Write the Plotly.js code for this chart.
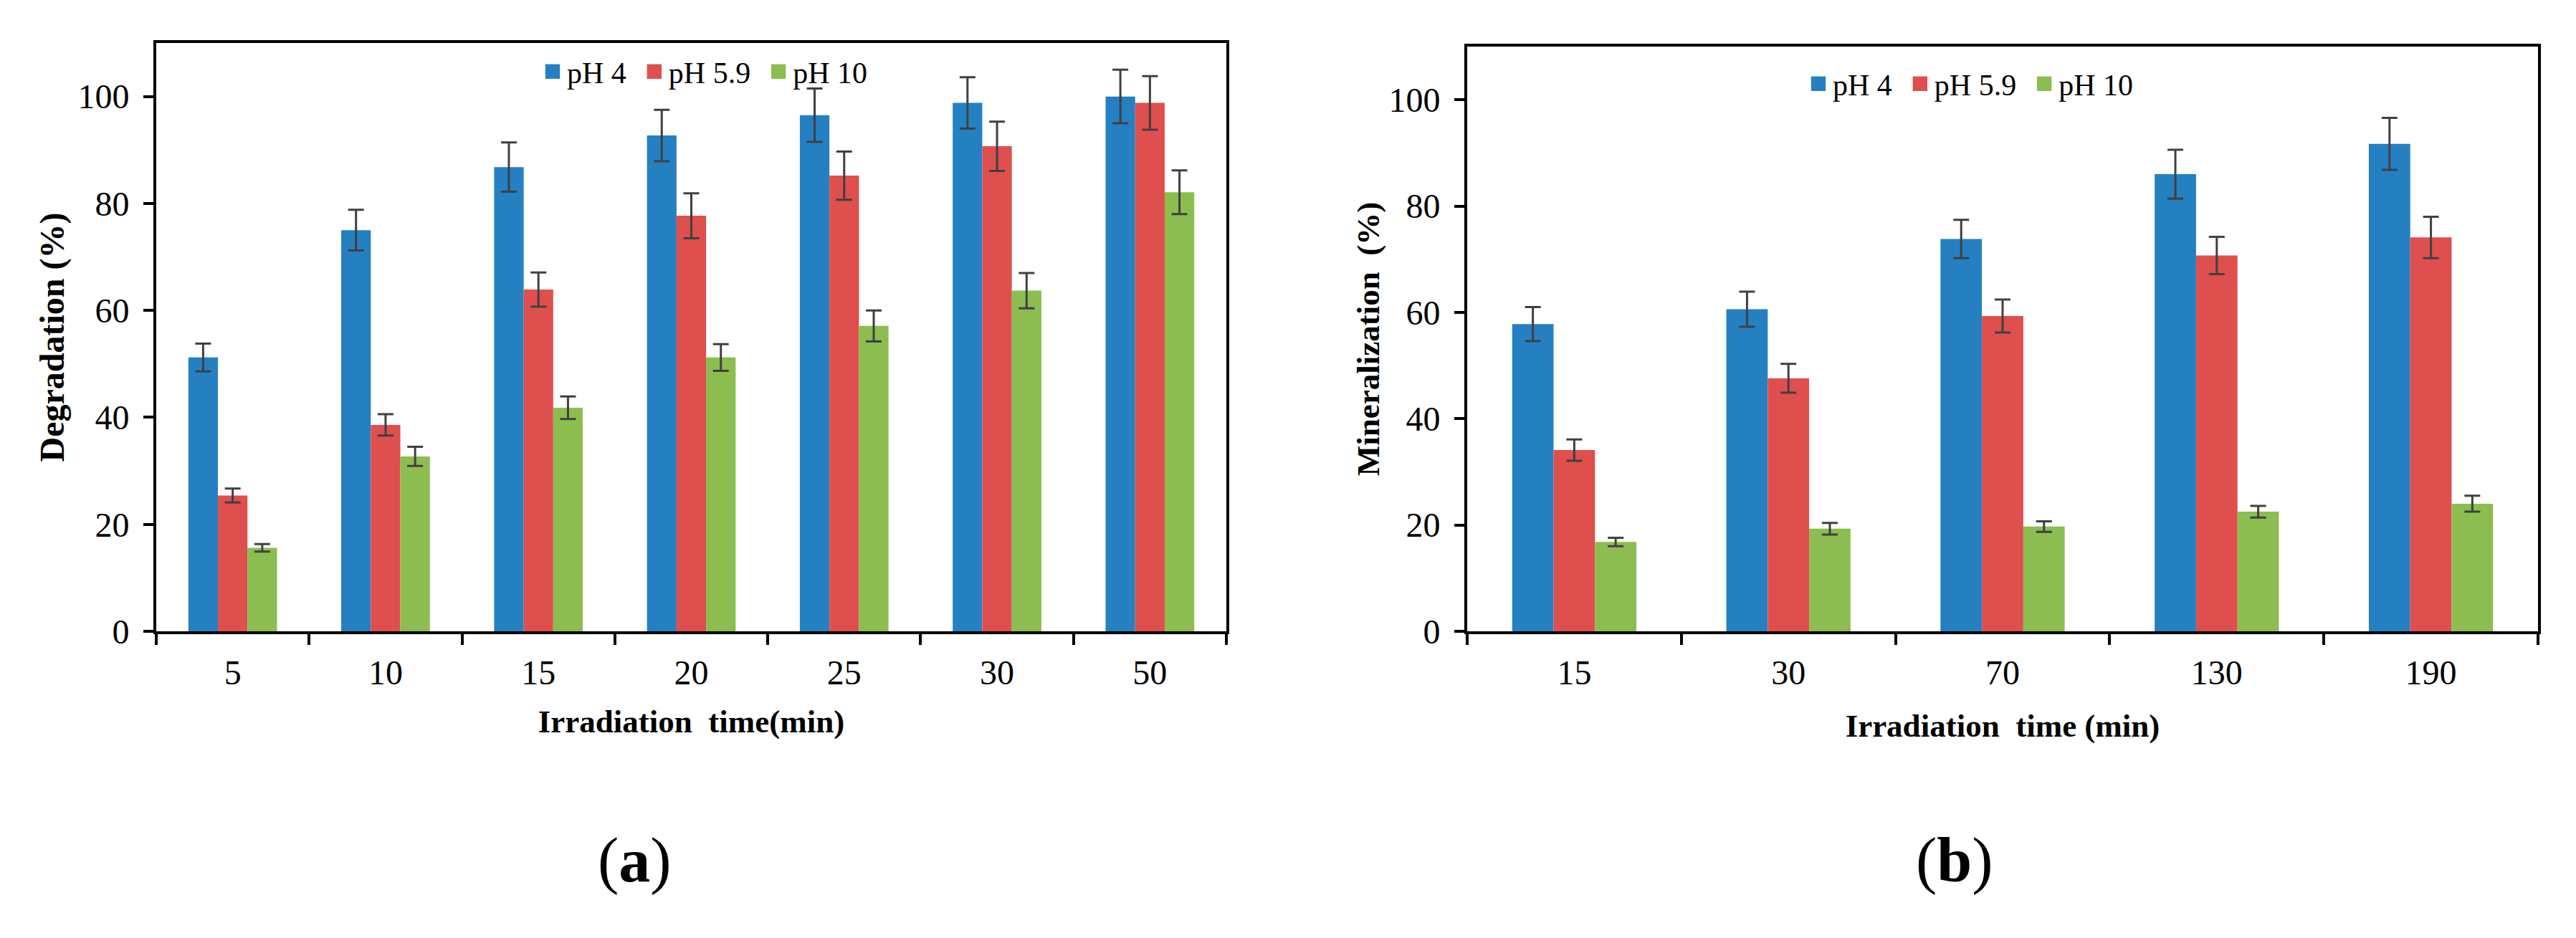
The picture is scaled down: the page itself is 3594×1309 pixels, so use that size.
<!DOCTYPE html>
<html>
<head>
<meta charset="utf-8">
<script src="https://cdn.plot.ly/plotly-3.0.1.min.js"></script>
<style>
  body { margin: 0; background: #fff; }
  #chart { width: 3594px; height: 1309px; }
</style>
</head>
<body>
<div id="chart"></div>
<script>
// (a) degradation
const timesA = ['5', '10', '15', '20', '25', '30', '50'];
const degPH4 = [51.2, 75.0, 86.8, 92.7, 96.5, 98.8, 100.0];
const degPH59 = [25.4, 38.6, 63.9, 77.7, 85.2, 90.7, 98.8];
const degPH10 = [15.6, 32.7, 41.8, 51.2, 57.1, 63.7, 82.1];
const degErr4 = [2.6, 3.8, 4.6, 4.8, 5.0, 4.8, 5.0];
const degErr59 = [1.3, 2.0, 3.2, 4.2, 4.5, 4.6, 5.0];
const degErr10 = [0.7, 1.8, 2.1, 2.5, 2.9, 3.3, 4.1];

// (b) mineralization
const timesB = ['15', '30', '70', '130', '190'];
const minPH4 = [57.8, 60.6, 73.8, 86.0, 91.7];
const minPH59 = [34.1, 47.6, 59.3, 70.7, 74.1];
const minPH10 = [16.8, 19.3, 19.7, 22.5, 24.0];
const minErr4 = [3.2, 3.3, 3.6, 4.6, 4.9];
const minErr59 = [2.0, 2.7, 3.1, 3.5, 3.9];
const minErr10 = [0.8, 1.1, 1.0, 1.1, 1.5];

const seriesNames = ['pH 4', 'pH 5.9', 'pH 10'];
const colors = ['#2580C2', '#DE4F4E', '#8CBD50'];

const serif = 'Liberation Serif, Times New Roman, serif';

function bar(x, y, err, i, xa, ya, leg) {
    return {
        type: 'bar',
        x: x,
        y: y,
        // a little trailing space so the legend entries sit apart like the original
        name: seriesNames[i] + '\u00a0\u200a',
        xaxis: xa,
        yaxis: ya,
        legend: leg,
        marker: { color: colors[i] },
        error_y: {
            type: 'data',
            array: err,
            visible: true,
            color: '#404040',
            thickness: 3,
            width: 11
        }
    };
}

const data = [
    bar(timesA, degPH4, degErr4, 0, 'x', 'y', 'legend'),
    bar(timesA, degPH59, degErr59, 1, 'x', 'y', 'legend'),
    bar(timesA, degPH10, degErr10, 2, 'x', 'y', 'legend'),
    bar(timesB, minPH4, minErr4, 0, 'x2', 'y2', 'legend2'),
    bar(timesB, minPH59, minErr59, 1, 'x2', 'y2', 'legend2'),
    bar(timesB, minPH10, minErr10, 2, 'x2', 'y2', 'legend2')
];

const xAxisBase = {
    type: 'category',
    showline: true,
    linecolor: '#000',
    linewidth: 4,
    mirror: true,
    ticks: 'outside',
    tickson: 'boundaries',
    ticklen: 15,
    tickwidth: 4,
    tickcolor: '#000',
    showgrid: false,
    zeroline: false,
    ticklabelstandoff: 12,
    tickfont: { family: serif, size: 48, color: '#000' }
};

const yAxisBase = {
    range: [0, 110],
    tickvals: [0, 20, 40, 60, 80, 100],
    showline: true,
    linecolor: '#000',
    linewidth: 4,
    mirror: true,
    ticks: 'outside',
    ticklen: 14,
    tickwidth: 4,
    tickcolor: '#000',
    showgrid: false,
    zeroline: false,
    ticklabelstandoff: 10,
    tickfont: { family: serif, size: 48, color: '#000' }
};

const xTitleFont = { family: serif, size: 45, color: '#000', weight: 'bold' };

const layout = {
    width: 3594,
    height: 1309,
    margin: { l: 0, r: 0, t: 0, b: 0 },
    paper_bgcolor: '#fff',
    plot_bgcolor: '#fff',
    barmode: 'group',
    bargap: 0.42,
    bargroupgap: 0,
    xaxis: {
        ...xAxisBase,
        domain: [218 / 3594, 1711 / 3594],
        anchor: 'y',
        title: { text: 'Irradiation\u00a0 time(min)', font: xTitleFont, standoff: 28 }
    },
    yaxis: {
        ...yAxisBase,
        domain: [428 / 1309, 1249 / 1309],
        anchor: 'x',
        title: {
            text: 'Degradation (%)',
            font: { family: serif, size: 48, color: '#000', weight: 'bold' },
            standoff: 5
        }
    },
    xaxis2: {
        ...xAxisBase,
        domain: [2047 / 3594, 3541 / 3594],
        anchor: 'y2',
        title: { text: 'Irradiation\u00a0 time (min)', font: xTitleFont, standoff: 34 }
    },
    yaxis2: {
        ...yAxisBase,
        domain: [428 / 1309, 1244 / 1309],
        anchor: 'x2',
        title: {
            text: 'Mineralization\u00a0 (%)',
            font: { family: serif, size: 45, color: '#000', weight: 'bold' },
            standoff: 0
        }
    },
    legend: {
        orientation: 'h',
        x: 751 / 3594,
        xanchor: 'left',
        y: (1309 - 100) / 1309,
        yanchor: 'middle',
        bgcolor: 'rgba(0,0,0,0)',
        font: { family: serif, size: 42, color: '#000' }
    },
    legend2: {
        orientation: 'h',
        x: 2517 / 3594,
        xanchor: 'left',
        y: (1309 - 117) / 1309,
        yanchor: 'middle',
        bgcolor: 'rgba(0,0,0,0)',
        font: { family: serif, size: 42, color: '#000' }
    },
    annotations: [
        {
            text: '(<b>a</b>)', xref: 'paper', yref: 'paper',
            x: 885 / 3594, y: (1309 - 1200) / 1309,
            xanchor: 'center', yanchor: 'middle',
            showarrow: false, font: { family: serif, size: 88, color: '#000' }
        },
        {
            text: '(<b>b</b>)', xref: 'paper', yref: 'paper',
            x: 2727 / 3594, y: (1309 - 1200) / 1309,
            xanchor: 'center', yanchor: 'middle',
            showarrow: false, font: { family: serif, size: 88, color: '#000' }
        }
    ]
};

Plotly.newPlot('chart', data, layout, { displayModeBar: false, staticPlot: true }).then(function() {
    // bigger legend squares, like the original
    document.querySelectorAll('.legendpoints path').forEach(function(p) {
        const t = p.getAttribute('transform') || '';
        p.setAttribute('transform', t + ' scale(1.7)');
    });
});
</script>
</body>
</html>
